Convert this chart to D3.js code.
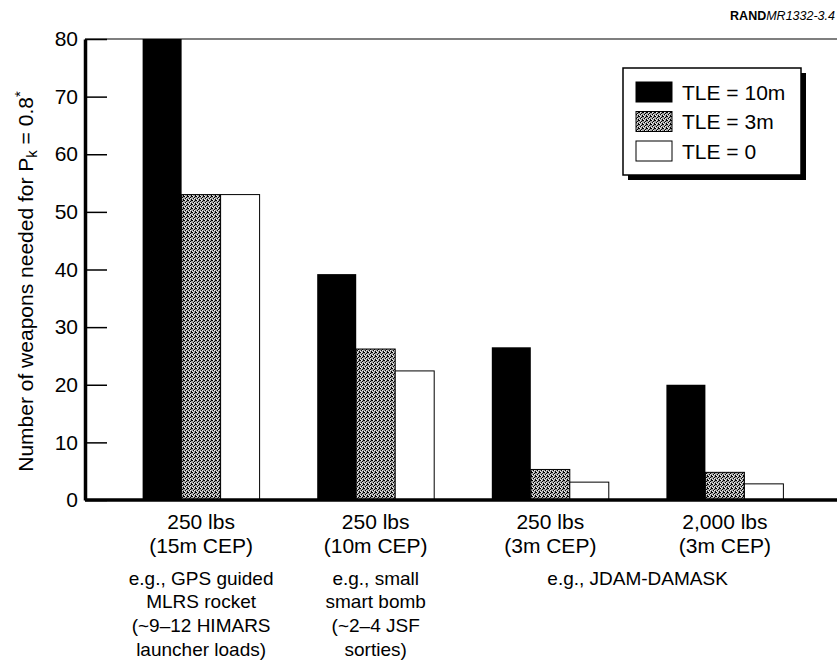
<!DOCTYPE html>
<meta charset="utf-8">
<html lang="en">
<head>
    <meta charset="UTF-8">
    <title>D3</title>
    <script src="https://d3js.org/d3.v7.min.js"></script>
    <style>
        body { margin: 0; background: #fff; }
        text { font-family: "Liberation Sans", Arial, Helvetica, sans-serif; fill: #000; }
    </style>
</head>
<body>
    <div id="viz"></div>
    <script>
        // data
        const weights = ["250 lbs", "250 lbs", "250 lbs", "2,000 lbs"];
        const ceps = ["(15m CEP)", "(10m CEP)", "(3m CEP)", "(3m CEP)"];
        const series = ["TLE = 10m", "TLE = 3m", "TLE = 0"];
        const tle10 = [80, 39.2, 26.5, 20];   // first bar runs off the top of the scale
        const tle3 = [53, 26.2, 5.3, 4.8];
        const tle0 = [53, 22.4, 3.1, 2.8];
        const examples = [["e.g., GPS guided", "MLRS rocket"], ["e.g., small", "smart bomb"], [], []];
        const sorties = [["(~9\u201312 HIMARS", "launcher loads)"], ["(~2\u20134 JSF", "sorties)"], [], []];
        const sharedExample = "e.g., JDAM-DAMASK";   // spans last two groups
        const yTicks = [0, 10, 20, 30, 40, 50, 60, 70, 80];

        const W = 837, H = 668;
        const plotL = 85, plotR = 837, plotT = 39, plotB = 500;

        const svg = d3.select("#viz")
            .append("svg")
                .attr("width", W)
                .attr("height", H);

        // gray stipple used for TLE = 3m
        const pat = svg.append("defs").append("pattern")
            .attr("id", "stipple")
            .attr("patternUnits", "userSpaceOnUse")
            .attr("width", 4).attr("height", 4);
        pat.append("rect").attr("width", 4).attr("height", 4).attr("fill", "#a4a4a4");
        [[0, 0], [2, 1], [1, 2], [3, 3], [3, 0]].forEach(p => {
            pat.append("rect").attr("x", p[0]).attr("y", p[1]).attr("width", 1).attr("height", 1).attr("fill", "#000");
        });
        [[1, 0], [0, 3], [2, 2]].forEach(p => {
            pat.append("rect").attr("x", p[0]).attr("y", p[1]).attr("width", 1).attr("height", 1).attr("fill", "#eee");
        });

        const fills = ["#000", "url(#stipple)", "#fff"];

        const x = d3.scaleBand()
            .domain(d3.range(weights.length))
            .range([plotL, 841])
            .paddingInner(0.33)
            .paddingOuter(0.33);

        const xs = d3.scaleBand()
            .domain(series)
            .range([0, x.bandwidth()]);

        const y = d3.scaleLinear()
            .domain([0, 80])
            .range([plotB, plotT]);

        const rows = weights.map((w, i) => ({ i: i, vals: [tle10[i], tle3[i], tle0[i]] }));

        // bars
        const g = svg.append("g");
        rows.forEach(r => {
            r.vals.forEach((v, j) => {
                g.append("rect")
                    .attr("x", x(r.i) + xs(series[j]))
                    .attr("y", y(v))
                    .attr("width", xs.bandwidth())
                    .attr("height", y(0) - y(v))
                    .attr("fill", fills[j])
                    .attr("stroke", j === 0 ? "none" : "#000")
                    .attr("stroke-width", 1);
            });
        });

        // top frame line and baseline
        svg.append("line")
            .attr("x1", plotL).attr("x2", plotR)
            .attr("y1", y(80)).attr("y2", y(80))
            .attr("stroke", "#000").attr("stroke-width", 1.2);
        svg.append("line")
            .attr("x1", plotL).attr("x2", plotR)
            .attr("y1", y(0)).attr("y2", y(0))
            .attr("stroke", "#000").attr("stroke-width", 3.5);

        // y axis, ticks pointing inward
        const yAxis = svg.append("g")
            .attr("transform", `translate(${plotL},0)`)
            .call(d3.axisLeft(y).tickValues(yTicks).tickSizeInner(-22).tickSizeOuter(0).tickPadding(7));
        yAxis.select(".domain").attr("stroke-width", 3.5);
        yAxis.selectAll(".tick line").attr("stroke-width", 1.5);
        yAxis.selectAll(".tick text")
            .style("font-size", "21px")
            .style("font-family", "'Liberation Sans', Arial, sans-serif");

        // y title
        const yt = svg.append("text")
            .attr("transform", `translate(33,${(plotT + plotB) / 2 + 12}) rotate(-90)`)
            .attr("text-anchor", "middle")
            .style("font-size", "21px");
        yt.append("tspan").text("Number of weapons needed for P");
        yt.append("tspan").attr("baseline-shift", "-25%").style("font-size", "15px").text("k");
        yt.append("tspan").text(" = 0.8");
        yt.append("tspan").attr("baseline-shift", "super").style("font-size", "15px").text("*");

        // category labels
        const cx = i => x(i) + x.bandwidth() / 2;
        weights.forEach((w, i) => {
            svg.append("text").attr("x", cx(i)).attr("y", 529).attr("text-anchor", "middle")
                .style("font-size", "21px").text(w);
            svg.append("text").attr("x", cx(i)).attr("y", 553).attr("text-anchor", "middle")
                .style("font-size", "21px").text(ceps[i]);
            examples[i].forEach((t, k) => {
                svg.append("text").attr("x", cx(i)).attr("y", 585 + k * 23).attr("text-anchor", "middle")
                    .style("font-size", "19px").text(t);
            });
            sorties[i].forEach((t, k) => {
                svg.append("text").attr("x", cx(i)).attr("y", 632 + k * 24).attr("text-anchor", "middle")
                    .style("font-size", "19px").text(t);
            });
        });
        svg.append("text").attr("x", (cx(2) + cx(3)) / 2).attr("y", 585).attr("text-anchor", "middle")
            .style("font-size", "19px").text(sharedExample);

        // legend with drop shadow
        const lg = svg.append("g").attr("transform", "translate(623,68)");
        lg.append("rect").attr("x", 5).attr("y", 5).attr("width", 178).attr("height", 107).attr("fill", "#000");
        lg.append("rect").attr("width", 178).attr("height", 107).attr("fill", "#fff")
            .attr("stroke", "#000").attr("stroke-width", 1.5);
        series.forEach((s, j) => {
            lg.append("rect")
                .attr("x", 13).attr("y", 14 + j * 29.5)
                .attr("width", 36).attr("height", 20)
                .attr("fill", fills[j])
                .attr("stroke", "#000").attr("stroke-width", 1);
            lg.append("text")
                .attr("x", 59).attr("y", 31.5 + j * 29.5)
                .style("font-size", "21px")
                .text(s);
        });

        // report id in the corner
        const rid = svg.append("text")
            .attr("x", 835).attr("y", 20)
            .attr("text-anchor", "end")
            .style("font-size", "12.5px");
        rid.append("tspan").style("font-weight", "bold").text("RAND");
        rid.append("tspan").style("font-style", "italic").text("MR1332-3.4");
    </script>
</body>
</html>
